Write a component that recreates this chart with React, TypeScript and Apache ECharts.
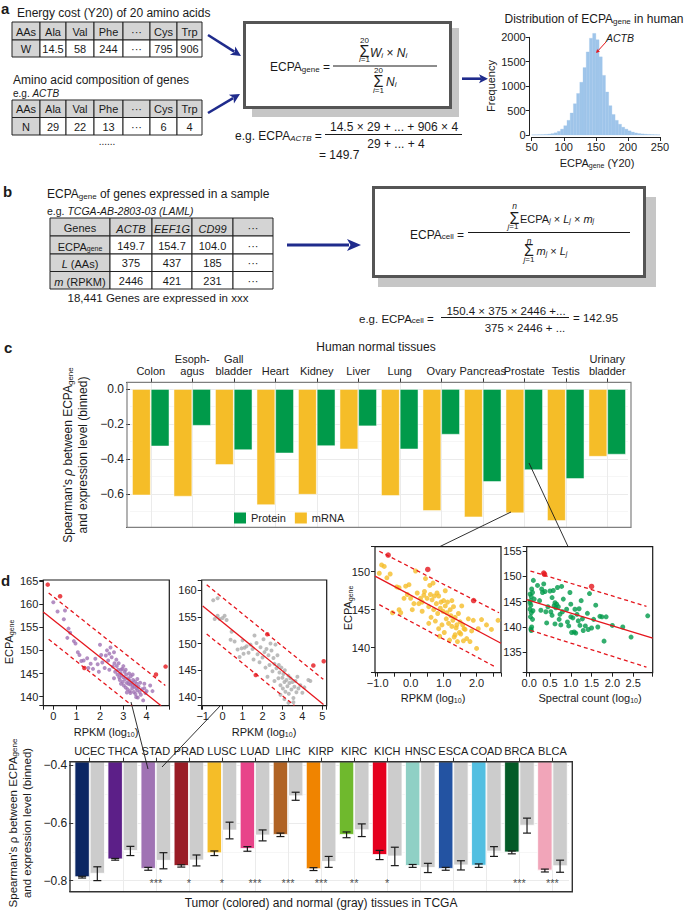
import React, { useEffect, useRef } from 'react';
import * as echarts from 'echarts';

const FONT = '"Liberation Sans", Arial, Helvetica, sans-serif';
const MINUS = '\u2212';

// ---------------- DATA ----------------
// Panel a: energy table and composition table
const energyHeader = ['AAs', 'Ala', 'Val', 'Phe', '···', 'Cys', 'Trp'];
const energyRow = ['W', '14.5', '58', '244', '···', '795', '906'];
const compRow = ['N', '29', '22', '13', '···', '6', '4'];

// Panel a histogram (ECPA_gene distribution)
const histBinStarts = [50, 55, 60, 65, 70, 75, 80, 85, 90, 95, 100, 105, 110, 115, 120, 125, 130, 135, 140, 145, 150, 155, 160, 165, 170, 175, 180, 185, 190, 195, 200, 205, 210, 215, 220, 225, 230, 235, 240, 245];
const histBinWidth = 5;
const histCounts = [3, 4, 6, 8, 12, 18, 28, 45, 75, 120, 190, 300, 450, 640, 850, 1080, 1380, 1700, 1980, 2080, 1950, 1600, 1220, 880, 600, 420, 300, 220, 160, 120, 85, 60, 42, 30, 22, 16, 12, 9, 6, 4];

// Panel b table
const sampleHeader = ['Genes', '{i|ACTB}', '{i|EEF1G}', '{i|CD99}', '···'];
const sampleRows = [
  ['{m|ECPA}{s|gene}', '149.7', '154.7', '104.0', '···'],
  ['{i|L}{m| (AAs)}', '375', '437', '185', '···'],
  ['{i|m}{m| (RPKM)}', '2446', '421', '231', '···'],
];

// Panel c
const tissues = ['Colon', 'Esoph-\nagus', 'Gall\nbladder', 'Heart', 'Kidney', 'Liver', 'Lung', 'Ovary', 'Pancreas', 'Prostate', 'Testis', 'Urinary\nbladder'];
const mrnaRho = [-0.608, -0.615, -0.434, -0.663, -0.604, -0.345, -0.611, -0.697, -0.733, -0.71, -0.754, -0.387];
const proteinRho = [-0.328, -0.21, -0.349, -0.368, -0.326, -0.213, -0.345, -0.261, -0.531, -0.463, -0.514, -0.375];

// Panel d bar chart
const cancers = ['UCEC', 'THCA', 'STAD', 'PRAD', 'LUSC', 'LUAD', 'LIHC', 'KIRP', 'KIRC', 'KICH', 'HNSC', 'ESCA', 'COAD', 'BRCA', 'BLCA'];
const cancerColors = ['#0b2664', '#5c1f88', '#a073b4', '#991c26', '#f5bd28', '#e8448a', '#b06325', '#f08400', '#6fb92d', '#e5001e', '#8fd0c5', '#2353a2', '#52bfe1', '#035b27', '#f1a5b9'];
const tumorRho = [-0.788, -0.726, -0.759, -0.749, -0.705, -0.69, -0.641, -0.76, -0.641, -0.711, -0.749, -0.759, -0.748, -0.702, -0.765];
const tumorErr = [0.003, 0.003, 0.005, 0.004, 0.008, 0.008, 0.006, 0.005, 0.01, 0.016, 0.005, 0.005, 0.006, 0.005, 0.005];
const normalRho = [-0.776, -0.697, -0.731, -0.73, -0.626, -0.643, -0.507, -0.735, -0.625, -0.716, -0.756, -0.747, -0.699, -0.609, -0.75];
const normalErr = [0.024, 0.016, 0.028, 0.019, 0.029, 0.019, 0.014, 0.019, 0.022, 0.032, 0.016, 0.016, 0.017, 0.026, 0.021];
const stars = ['', '', '***', '*', '*', '***', '***', '***', '**', '*', '', '', '', '***', '***'];

// Panel d scatter: STAD tumor (purple)
const stadTumorPts = [[0.0, 160.4], [0.18, 158.4], [0.45, 156.7], [0.5, 158.6], [0.65, 154.7], [0.72, 153.8], [0.6, 152.7], [0.88, 152.0], [0.95, 151.5], [1.05, 149.6], [1.12, 149.0], [1.2, 147.7], [1.3, 147.8], [1.45, 148.3], [1.6, 147.1], [1.7, 146.0], [1.8, 148.2], [1.9, 147.0], [2.0, 151.2], [2.05, 149.0], [2.1, 147.4], [2.2, 146.2], [2.25, 148.9], [2.3, 150.0], [2.35, 147.8], [2.4, 149.3], [2.45, 150.6], [2.5, 148.5], [2.55, 146.5], [2.6, 149.6], [2.62, 147.2], [2.65, 145.4], [2.7, 148.0], [2.72, 146.6], [2.75, 144.8], [2.78, 145.8], [2.8, 147.2], [2.82, 144.2], [2.85, 143.6], [2.88, 145.0], [2.9, 142.8], [2.92, 144.6], [2.95, 146.0], [2.98, 143.2], [3.0, 144.2], [3.02, 142.4], [3.05, 145.4], [3.08, 143.8], [3.1, 142.0], [3.12, 144.8], [3.15, 143.0], [3.18, 141.6], [3.2, 144.0], [3.22, 142.8], [3.25, 143.6], [3.28, 141.2], [3.3, 142.6], [3.32, 144.4], [3.35, 143.0], [3.38, 141.8], [3.4, 142.4], [3.42, 143.6], [3.45, 141.0], [3.48, 142.2], [3.5, 143.2], [3.52, 140.6], [3.55, 141.8], [3.58, 142.8], [3.6, 141.4], [3.62, 139.8], [3.65, 142.2], [3.7, 141.0], [3.72, 143.0], [3.75, 140.4], [3.8, 141.6], [3.85, 139.2], [3.9, 141.8], [3.95, 140.8], [4.0, 141.2], [4.15, 142.4], [4.25, 141.2], [3.0, 146.6], [2.9, 145.8], [3.1, 145.8], [3.25, 145.0], [2.6, 144.0], [3.4, 144.8], [3.6, 143.8], [2.4, 145.8], [1.95, 145.4], [1.5, 146.2], [3.55, 139.9], [3.3, 140.8], [3.15, 140.9], [3.9, 142.8]];
const stadTumorRed = [[-0.24, 164.2], [0.29, 161.7], [1.33, 146.2], [4.4, 144.8], [4.81, 146.5]];
const stadTumorFit = [[-0.43, 158.3], [4.62, 138.05]];
const stadTumorUpper = [[-0.2, 162.4], [4.8, 142.4]];
const stadTumorLower = [[-0.2, 152.4], [3.38, 138.05]];

// Panel d scatter: STAD normal (gray)
const stadNormalPts = [[-0.47, 158.1], [-0.25, 158.5], [-0.4, 154.6], [-0.25, 155.2], [-0.15, 154.6], [0.0, 154.8], [0.1, 155.2], [0.2, 154.4], [0.45, 152.2], [0.4, 150.7], [0.6, 150.4], [0.75, 148.9], [0.85, 147.5], [0.95, 149.1], [1.05, 148.1], [1.1, 149.2], [1.2, 149.5], [1.3, 148.3], [1.4, 149.8], [1.5, 149.0], [1.55, 147.0], [1.7, 150.1], [1.75, 148.0], [1.85, 146.5], [1.9, 149.3], [2.0, 147.4], [2.05, 150.8], [2.1, 148.4], [2.15, 145.5], [2.2, 149.0], [2.3, 147.8], [2.35, 146.0], [2.4, 150.0], [2.45, 148.7], [2.5, 144.8], [2.55, 147.3], [2.6, 146.2], [2.65, 149.8], [2.7, 145.4], [2.75, 147.8], [2.8, 143.5], [2.82, 146.0], [2.85, 144.6], [2.9, 142.2], [2.95, 145.5], [3.0, 143.6], [3.02, 141.6], [3.05, 144.3], [3.1, 142.8], [3.12, 145.0], [3.15, 141.0], [3.2, 143.2], [3.25, 142.0], [3.3, 144.0], [3.32, 140.6], [3.35, 142.6], [3.4, 143.5], [3.45, 141.4], [3.5, 142.8], [3.55, 139.8], [3.6, 141.9], [3.65, 143.0], [3.7, 140.9], [3.8, 141.6], [3.9, 142.2], [4.0, 140.8], [4.1, 141.8], [4.3, 143.2], [4.4, 143.0], [3.55, 139.0], [2.9, 140.4], [3.1, 139.6], [3.3, 138.9], [1.0, 150.6], [2.25, 143.8], [2.6, 143.0], [3.75, 143.8], [1.6, 151.5]];
const stadNormalRed = [[2.24, 151.75], [1.66, 144.1], [4.55, 145.9], [5.07, 146.7]];
const stadNormalFit = [[-1.0, 157.05], [5.06, 138.6]];
const stadNormalUpper = [[-0.8, 161.0], [5.05, 143.3]];
const stadNormalLower = [[-0.8, 151.8], [3.6, 138.4]];

// Panel c scatter: prostate mRNA (yellow)
const prostateMrnaPts = [[-0.95, 149.8], [-0.88, 150.9], [-0.8, 150.7], [-0.62, 149.7], [-0.72, 149.2], [-0.55, 144.6], [-0.35, 145.0], [-0.3, 144.6], [-0.42, 148.0], [-0.35, 147.9], [-0.2, 146.5], [-0.15, 148.1], [-0.1, 147.0], [-0.05, 148.3], [0.0, 146.5], [0.05, 145.0], [0.1, 145.8], [0.15, 150.1], [0.2, 147.2], [0.25, 145.8], [0.3, 146.5], [0.35, 144.8], [0.4, 146.9], [0.42, 147.4], [0.45, 149.1], [0.5, 146.5], [0.55, 145.4], [0.58, 148.2], [0.6, 147.0], [0.62, 144.0], [0.65, 146.3], [0.68, 148.5], [0.7, 145.0], [0.72, 146.8], [0.75, 143.5], [0.78, 145.8], [0.8, 147.2], [0.82, 144.5], [0.85, 142.5], [0.88, 141.5], [0.9, 145.2], [0.92, 146.0], [0.95, 143.0], [0.98, 144.8], [1.0, 146.2], [1.02, 142.0], [1.05, 145.5], [1.08, 143.8], [1.1, 144.6], [1.12, 146.0], [1.15, 143.2], [1.18, 141.0], [1.2, 145.0], [1.22, 144.2], [1.25, 142.8], [1.28, 143.6], [1.3, 145.4], [1.32, 141.4], [1.35, 144.0], [1.38, 142.6], [1.4, 143.0], [1.42, 140.8], [1.45, 144.5], [1.48, 142.0], [1.5, 143.4], [1.52, 141.8], [1.55, 145.5], [1.58, 143.0], [1.6, 140.9], [1.65, 142.4], [1.7, 141.2], [1.75, 143.8], [1.8, 140.8], [1.85, 142.2], [1.9, 143.6], [2.0, 139.9], [2.05, 142.5], [2.15, 143.7], [2.3, 143.0], [2.45, 142.4], [2.65, 143.6], [1.25, 146.2], [0.85, 146.8], [1.05, 147.5], [0.35, 146.0], [1.35, 141.7], [0.55, 143.2], [1.62, 142.5]];
const prostateMrnaRed = [[-0.68, 152.2], [0.52, 150.3], [1.91, 146.2]];
const prostateMrnaFit = [[-1.08, 149.43], [2.74, 140.58]];
const prostateMrnaUpper = [[-0.95, 152.7], [2.68, 144.6]];
const prostateMrnaLower = [[-0.95, 145.66], [2.55, 137.5]];

// Panel c scatter: prostate protein (green)
const prostateProtPts = [[0.02, 146.5], [0.03, 145.2], [0.04, 144.3], [0.02, 143.5], [0.05, 142.8], [0.03, 142.0], [0.06, 147.5], [0.05, 146.0], [0.08, 146.8], [0.1, 149.2], [0.04, 139.6], [0.06, 140.0], [0.05, 139.3], [0.02, 144.8], [0.09, 143.2], [0.12, 145.5], [0.08, 141.5], [0.2, 148.2], [0.25, 145.2], [0.28, 143.3], [0.3, 147.5], [0.32, 146.8], [0.35, 148.5], [0.38, 147.0], [0.4, 143.0], [0.42, 140.8], [0.45, 144.0], [0.5, 147.1], [0.52, 143.0], [0.55, 142.3], [0.58, 147.2], [0.6, 144.2], [0.62, 144.8], [0.64, 143.8], [0.66, 144.5], [0.68, 147.8], [0.7, 144.0], [0.72, 141.5], [0.74, 142.5], [0.76, 140.4], [0.78, 148.0], [0.8, 143.0], [0.82, 145.5], [0.62, 140.6], [0.55, 145.8], [0.9, 143.5], [0.92, 141.0], [0.95, 140.2], [0.98, 146.8], [1.0, 142.0], [1.02, 138.9], [1.05, 141.8], [1.08, 139.0], [1.1, 143.5], [1.12, 138.8], [1.15, 142.5], [1.18, 141.2], [1.2, 143.6], [1.25, 145.2], [1.28, 141.6], [1.3, 139.3], [1.0, 144.5], [1.22, 140.3], [1.35, 140.2], [1.4, 142.7], [1.42, 139.5], [1.45, 146.6], [1.5, 139.8], [1.55, 141.5], [1.6, 144.3], [1.65, 140.0], [1.7, 142.1], [1.75, 142.0], [1.8, 137.2], [1.85, 142.0], [2.0, 140.3], [2.25, 140.0], [2.45, 138.0], [2.85, 142.2]];
const prostateProtRed = [[0.35, 150.65], [0.37, 150.4], [1.5, 148.0]];
const prostateProtFit = [[-0.06, 145.4], [2.97, 137.8]];
const prostateProtUpper = [[0.03, 151.05], [2.82, 144.07]];
const prostateProtLower = [[0.03, 139.33], [2.82, 132.08]];

// ---------------- STYLE ----------------
const INK = '#1a1a1a';
const NAVY = '#1f2b8c';
const RED = '#e5161d';
const YELLOW = '#f5bd28';
const GREEN = '#009a4a';
const PURPLE = '#a073b4';
const GRAYPT = '#ababab';
const HIST = '#9fc5ea';
const CELL_GREY = '#d4d4d4';

const R = (fs: number, color = INK) => {
  const sf = Math.round(fs * 0.68);
  const sl = Math.round(fs * 0.35 + 2);
  const base = { fontFamily: FONT, fill: color, color, verticalAlign: 'bottom' };
  return {
    m: { ...base, fontSize: fs, lineHeight: fs + 2 },
    i: { ...base, fontSize: fs, lineHeight: fs + 2, fontStyle: 'italic' },
    s: { ...base, fontSize: sf, lineHeight: sl },
    si: { ...base, fontSize: sf, lineHeight: sl, fontStyle: 'italic' },
  };
};

const T = (x: number, y: number, text: string, o: any = {}) => ({
  type: 'text',
  x,
  y,
  rotation: o.rot || 0,
  z: o.z ?? 20,
  silent: true,
  style: {
    text,
    fontSize: o.fs ?? 12,
    fontFamily: FONT,
    fontStyle: o.it ? 'italic' : 'normal',
    fontWeight: o.bold ? 'bold' : 'normal',
    fill: o.color ?? INK,
    textAlign: o.align ?? 'left',
    textVerticalAlign: o.va ?? 'middle',
    rich: o.rich ?? R(o.fs ?? 12, o.color ?? INK),
  },
});

const L = (x1: number, y1: number, x2: number, y2: number, color = INK, lw = 1, z = 20) => ({
  type: 'line', z, silent: true, shape: { x1, y1, x2, y2 }, style: { stroke: color, lineWidth: lw },
});

const arrow = (x1: number, y1: number, x2: number, y2: number, color: string, lw: number, hl: number, hw: number) => {
  const dx = x2 - x1, dy = y2 - y1, len = Math.hypot(dx, dy), ux = dx / len, uy = dy / len;
  const bx = x2 - ux * hl, by = y2 - uy * hl;
  return [
    L(x1, y1, bx + ux * 2, by + uy * 2, color, lw, 15),
    {
      type: 'polygon', z: 15, silent: true,
      shape: { points: [[x2, y2], [bx - uy * hw, by + ux * hw], [bx + ux * hl * 0.25, by + uy * hl * 0.25], [bx + uy * hw, by - ux * hw]] },
      style: { fill: color },
    },
  ];
};

function tableEls(cols: number[], rows: number[], cells: string[][], fs: number) {
  const out: any[] = [];
  for (let r = 0; r < cells.length; r++) {
    for (let c = 0; c < cells[r].length; c++) {
      const x = cols[c], y = rows[r], w = cols[c + 1] - x, h = rows[r + 1] - y;
      out.push({ type: 'rect', z: 3, silent: true, shape: { x, y, width: w, height: h }, style: { fill: r === 0 || c === 0 ? CELL_GREY : '#fff', stroke: '#222', lineWidth: 1 } });
      out.push(T(x + w / 2, y + h / 2 + 0.5, cells[r][c], { fs, align: 'center', z: 4 }));
    }
  }
  return out;
}

const fmt = (step: number, digits: number) => (v: number) => {
  const k = Math.round(v / step);
  if (Math.abs(v - k * step) > 1e-6) return '';
  return (k * step).toFixed(digits).replace('-', MINUS);
};

const axisLabelBase = { fontFamily: FONT, fontSize: 11, color: '#222' };
const tickStyle = { color: '#222', width: 1 };

function scatterAxes(gi: number, xr: number[], yr: number[], xStep: number, xDigits: number, xSplit: number, ySplit: number, minorX = false) {
  const x = {
    type: 'value', gridIndex: gi, min: xr[0], max: xr[1], splitNumber: xSplit,
    axisLine: { show: false, onZero: false },
    axisTick: { show: true, length: 4, lineStyle: tickStyle },
    minorTick: { show: minorX, splitNumber: 2, length: 4, lineStyle: tickStyle },
    axisLabel: { ...axisLabelBase, margin: 5, formatter: fmt(xStep, xDigits) },
    splitLine: { show: false },
  };
  const y = {
    type: 'value', gridIndex: gi, min: yr[0], max: yr[1], splitNumber: ySplit,
    axisLine: { show: false, onZero: false },
    axisTick: { show: true, length: 4, lineStyle: tickStyle },
    minorTick: { show: false },
    axisLabel: { ...axisLabelBase, margin: 5, formatter: fmt(5, 0) },
    splitLine: { show: false },
  };
  return { x, y };
}

function scatterSeries(ai: number, pts: number[][], red: number[][], fit: number[][], up: number[][], lo: number[][], color: string, size: number) {
  const lineBase = { type: 'line', xAxisIndex: ai, yAxisIndex: ai, symbol: 'none', silent: true, z: 5 };
  return [
    { type: 'scatter', xAxisIndex: ai, yAxisIndex: ai, data: pts, symbolSize: size, itemStyle: { color }, silent: true, z: 3 },
    { type: 'scatter', xAxisIndex: ai, yAxisIndex: ai, data: red, symbolSize: size + 0.5, itemStyle: { color: RED }, silent: true, z: 4 },
    { ...lineBase, data: fit, lineStyle: { color: RED, width: 1.3 } },
    { ...lineBase, data: up, lineStyle: { color: RED, width: 1.3, type: [4, 3] } },
    { ...lineBase, data: lo, lineStyle: { color: RED, width: 1.3, type: [4, 3] } },
  ];
}

function buildOption() {
  const grids = [
    { left: 531.7, top: 37.3, width: 128.3, height: 97.7 },
    { left: 130, top: 382.35, width: 498, height: 144.9 },
    { left: 73.2, top: 761.7, width: 495.8, height: 130 },
    { left: 43.3, top: 580, width: 126, height: 125.7, show: true, borderColor: INK, borderWidth: 1.2, backgroundColor: 'transparent' },
    { left: 201.7, top: 580, width: 125, height: 125.7, show: true, borderColor: INK, borderWidth: 1.2, backgroundColor: 'transparent' },
    { left: 375, top: 546.7, width: 126, height: 126, show: true, borderColor: INK, borderWidth: 1.2, backgroundColor: 'transparent' },
    { left: 526.7, top: 546.7, width: 126, height: 126, show: true, borderColor: INK, borderWidth: 1.2, backgroundColor: 'transparent' },
  ];

  const sPurple = scatterAxes(3, [-0.43, 4.97], [138.05, 165.2], 1, 0, 5, 5);
  const sGrey = scatterAxes(4, [-1.05, 5.22], [138.37, 161.9], 1, 0, 5, 5);
  const sYellow = scatterAxes(5, [-1.08, 2.74], [136.7, 153.3], 1, 1, 4, 3, true);
  const sGreen = scatterAxes(6, [-0.06, 2.97], [130.97, 155.85], 0.5, 1, 6, 5);

  const catAxisTop = (gi: number, data: string[], fs: number) => ({
    type: 'category', gridIndex: gi, position: 'top', data,
    axisLine: { show: false, onZero: false },
    axisTick: { show: true, alignWithLabel: true, length: 4, lineStyle: { color: '#333' } },
    axisLabel: { ...axisLabelBase, fontSize: fs, interval: 0, margin: 5, lineHeight: 12, hideOverlap: false },
    splitLine: { show: true, alignWithLabel: true, interval: 0, lineStyle: { color: '#ebebeb', width: 1 } },
  });

  const xAxis: any[] = [
    {
      type: 'value', gridIndex: 0, min: 50, max: 250, interval: 50, offset: 2,
      axisLine: { show: true, onZero: false, lineStyle: { color: '#222', width: 1 } },
      axisTick: { show: true, length: 4, lineStyle: tickStyle },
      axisLabel: { ...axisLabelBase, margin: 4, formatter: (v: number) => String(v) },
      splitLine: { show: false },
    },
    catAxisTop(1, tissues, 11),
    catAxisTop(2, cancers, 11),
    sPurple.x, sGrey.x, sYellow.x, sGreen.x,
  ];
  const yAxis: any[] = [
    {
      type: 'value', gridIndex: 0, min: 0, max: 2000, interval: 500, offset: 2,
      axisLine: { show: true, onZero: false, lineStyle: { color: '#222', width: 1 } },
      axisTick: { show: true, length: 4, lineStyle: tickStyle },
      axisLabel: { ...axisLabelBase, margin: 4, formatter: (v: number) => String(v) },
      splitLine: { show: false },
    },
    {
      type: 'value', gridIndex: 1, min: -0.79, max: 0.038, splitNumber: 4,
      axisLine: { show: false, onZero: false },
      axisTick: { show: true, length: 4, lineStyle: { color: '#333' } },
      axisLabel: { ...axisLabelBase, fontSize: 12, margin: 6, formatter: fmt(0.2, 1) },
      splitLine: { show: true, lineStyle: { color: '#ebebeb' } },
      minorTick: { show: false, splitNumber: 2 },
      minorSplitLine: { show: true, lineStyle: { color: '#f6f6f6' } },
    },
    {
      type: 'value', gridIndex: 2, min: -0.8385, max: -0.387, splitNumber: 2,
      axisLine: { show: false, onZero: false },
      axisTick: { show: true, length: 4, lineStyle: { color: '#333' } },
      axisLabel: { ...axisLabelBase, fontSize: 12, margin: 6, formatter: fmt(0.2, 1) },
      splitLine: { show: true, lineStyle: { color: '#ebebeb' } },
      minorTick: { show: false, splitNumber: 2 },
      minorSplitLine: { show: true, lineStyle: { color: '#f6f6f6' } },
    },
    sPurple.y, sGrey.y, sYellow.y, sGreen.y,
  ];

  const series: any[] = [
    {
      type: 'custom', xAxisIndex: 0, yAxisIndex: 0, clip: false, silent: true,
      data: histBinStarts.map((s, i) => [s, s + histBinWidth, histCounts[i]]),
      encode: { x: [0, 1], y: 2 },
      renderItem: (params: any, api: any) => {
        const p0 = api.coord([api.value(0), api.value(2)]);
        const p1 = api.coord([api.value(1), 0]);
        return { type: 'rect', shape: { x: p0[0], y: p0[1], width: p1[0] - p0[0], height: p1[1] - p0[1] }, style: { fill: HIST, stroke: HIST, lineWidth: 0.3 } };
      },
    },
    {
      type: 'bar', name: 'mRNA', xAxisIndex: 1, yAxisIndex: 1, data: mrnaRho, barGap: '0%', barCategoryGap: '10%', silent: true,
      itemStyle: { color: YELLOW, borderColor: 'rgba(255,255,255,0.6)', borderWidth: 0.8 },
    },
    {
      type: 'bar', name: 'Protein', xAxisIndex: 1, yAxisIndex: 1, data: proteinRho, barGap: '0%', barCategoryGap: '10%', silent: true,
      itemStyle: { color: GREEN, borderColor: 'rgba(255,255,255,0.6)', borderWidth: 0.8 },
    },
    {
      type: 'bar', name: 'Tumor', xAxisIndex: 2, yAxisIndex: 2, barGap: '0%', barCategoryGap: '8%', silent: true,
      data: tumorRho.map((v, i) => ({ value: v, itemStyle: { color: cancerColors[i] } })),
      itemStyle: { borderColor: '#ffffff', borderWidth: 0.8 },
    },
    {
      type: 'bar', name: 'Normal', xAxisIndex: 2, yAxisIndex: 2, barGap: '0%', barCategoryGap: '8%', silent: true,
      data: normalRho, itemStyle: { color: '#cccccc', borderColor: '#ffffff', borderWidth: 0.8 },
    },
    {
      type: 'custom', xAxisIndex: 2, yAxisIndex: 2, silent: true, z: 6,
      data: tumorRho.map((v, i) => [i, v, tumorErr[i], -1]).concat(normalRho.map((v, i) => [i, v, normalErr[i], 1])),
      encode: { x: 0, y: 1 },
      renderItem: (params: any, api: any) => {
        const i = api.value(0), v = api.value(1), e = api.value(2), side = api.value(3);
        const band = api.size([1, 0])[0];
        const cx = api.coord([i, v])[0] + side * band * 0.23;
        const yt = api.coord([i, v + e])[1];
        const yb = api.coord([i, v - e])[1];
        const cap = 4;
        const st = { stroke: INK, lineWidth: 1.2 };
        return {
          type: 'group',
          children: [
            { type: 'line', shape: { x1: cx, y1: yt, x2: cx, y2: yb }, style: st },
            { type: 'line', shape: { x1: cx - cap, y1: yt, x2: cx + cap, y2: yt }, style: st },
            { type: 'line', shape: { x1: cx - cap, y1: yb, x2: cx + cap, y2: yb }, style: st },
          ],
        };
      },
    },
    {
      type: 'scatter', xAxisIndex: 2, yAxisIndex: 2, silent: true, z: 6,
      data: stars.map((s, i) => [i, -0.809]),
      symbolSize: 1,
      itemStyle: { color: 'rgba(0,0,0,0)' },
      label: {
        show: true, position: 'inside', color: INK, fontFamily: FONT, fontSize: 11,
        formatter: (p: any) => stars[p.dataIndex],
      },
    },
    ...scatterSeries(3, stadTumorPts, stadTumorRed, stadTumorFit, stadTumorUpper, stadTumorLower, PURPLE, 4),
    ...scatterSeries(4, stadNormalPts, stadNormalRed, stadNormalFit, stadNormalUpper, stadNormalLower, GRAYPT, 4),
    ...scatterSeries(5, prostateMrnaPts, prostateMrnaRed, prostateMrnaFit, prostateMrnaUpper, prostateMrnaLower, YELLOW, 5),
    ...scatterSeries(6, prostateProtPts, prostateProtRed, prostateProtFit, prostateProtUpper, prostateProtLower, GREEN, 5),
  ];

  // ---------------- GRAPHIC ----------------
  const G: any[] = [];
  G.push(T(1, 8, 'a', { fs: 15, bold: true }));
  G.push(T(3, 191, 'b', { fs: 15, bold: true }));
  G.push(T(4, 347, 'c', { fs: 15, bold: true }));
  G.push(T(1, 580, 'd', { fs: 15, bold: true }));

  // panel a, left
  const energyCols = [12, 40, 66, 94, 123, 150, 177, 202];
  G.push(T(17, 13, 'Energy cost (Y20) of 20 amino acids', { fs: 12 }));
  G.push(...tableEls(energyCols, [22, 40, 57], [energyHeader, energyRow], 11));
  G.push(T(13, 80, 'Amino acid composition of genes', { fs: 12 }));
  G.push(T(13, 92.5, '{m|e.g. }{i|ACTB}', { fs: 10 }));
  G.push(...tableEls(energyCols, [100, 117.5, 135], [energyHeader, compRow], 11));
  G.push(T(107, 141, '......', { fs: 10, align: 'center' }));
  G.push(...arrow(208, 35, 241, 56, NAVY, 2.6, 10, 5));
  G.push(...arrow(208, 113, 240, 94, NAVY, 2.6, 10, 5));

  // formula box 1
  G.push({ type: 'rect', z: 1, silent: true, shape: { x: 252, y: 28, width: 207, height: 89 }, style: { fill: '#c6c6c6' } });
  G.push({ type: 'rect', z: 2, silent: true, shape: { x: 244.5, y: 22.5, width: 206, height: 85 }, style: { fill: '#fff', stroke: '#555', lineWidth: 3 } });
  G.push(T(270, 66, '{m|ECPA}{s|gene}{m| =}', { fs: 12 }));
  G.push(L(333, 66, 437, 66, INK, 1));
  G.push(T(364.5, 51, 'Σ', { fs: 16, align: 'center' }));
  G.push(T(364.5, 40, '20', { fs: 8, align: 'center' }));
  G.push(T(364.5, 60, '{si|i}{s|=1}', { fs: 11.5, align: 'center' }));
  G.push(T(370, 52, '{i|W}{si|i}{m| × }{i|N}{si|i}', { fs: 12 }));
  G.push(T(378.5, 81, 'Σ', { fs: 16, align: 'center' }));
  G.push(T(378.5, 70.5, '20', { fs: 8, align: 'center' }));
  G.push(T(378.5, 91, '{si|i}{s|=1}', { fs: 11.5, align: 'center' }));
  G.push(T(386, 81, '{i|N}{si|i}', { fs: 12 }));
  G.push(T(235, 135, '{m|e.g. ECPA}{si|ACTB}{m| =}', { fs: 12 }));
  G.push(T(394, 126.5, '14.5 × 29 + ... + 906 × 4', { fs: 12, align: 'center' }));
  G.push(L(325, 134.5, 462, 134.5, INK, 1));
  G.push(T(396, 144, '29 + ... + 4', { fs: 12, align: 'center' }));
  G.push(T(319, 155, '= 149.7', { fs: 12 }));
  G.push(...arrow(462, 78.7, 488, 78.7, NAVY, 2.6, 9, 4.5));

  // histogram labels
  G.push(T(594, 18, '{m|Distribution of ECPA}{s|gene}{m| in human}', { fs: 12, align: 'center' }));
  G.push(T(491, 86, 'Frequency', { fs: 11, align: 'center', rot: Math.PI / 2 }));
  G.push(T(597, 162, '{m|ECPA}{s|gene}{m| (Y20)}', { fs: 11, align: 'center' }));
  G.push(T(606, 37.5, 'ACTB', { fs: 10.5, it: true }));
  G.push(...arrow(606, 42, 596, 53, RED, 1, 4, 2));

  // panel b
  G.push(T(47, 193, '{m|ECPA}{s|gene}{m| of genes expressed in a sample}', { fs: 12 }));
  G.push(T(47, 210.5, '{m|e.g. }{i|TCGA-AB-2803-03 (LAML)}', { fs: 10.5 }));
  G.push(...tableEls([50, 110, 152, 192, 233, 273], [218, 236, 254, 271.5, 289], [sampleHeader, ...sampleRows], 11));
  G.push(T(158, 297.5, '18,441 Genes are expressed in xxx', { fs: 11.5, align: 'center' }));
  G.push(...arrow(287, 245, 361, 245, NAVY, 3, 14, 6));

  // formula box 2
  G.push({ type: 'rect', z: 1, silent: true, shape: { x: 378, y: 197, width: 278, height: 90 }, style: { fill: '#c6c6c6' } });
  G.push({ type: 'rect', z: 2, silent: true, shape: { x: 373.5, y: 187.5, width: 271, height: 89 }, style: { fill: '#fff', stroke: '#555', lineWidth: 3 } });
  G.push(T(410, 233.5, '{m|ECPA}{s|cell}{m| =}', { fs: 12 }));
  G.push(L(468, 232.5, 630, 232.5, INK, 1));
  G.push(T(514.5, 218.5, 'Σ', { fs: 16, align: 'center' }));
  G.push(T(514.5, 206, 'n', { fs: 8.5, it: true, align: 'center' }));
  G.push(T(513, 227, '{si|j}{s|=1}', { fs: 11.5, align: 'center' }));
  G.push(T(520, 217.5, '{m|ECPA}{si|j}{m| × }{i|L}{si|j}{m| × }{i|m}{si|j}', { fs: 11 }));
  G.push(T(529, 250.5, 'Σ', { fs: 16, align: 'center' }));
  G.push(T(529, 240.5, 'n', { fs: 8.5, it: true, align: 'center' }));
  G.push(T(529, 260.5, '{si|j}{s|=1}', { fs: 11.5, align: 'center' }));
  G.push(T(536.5, 250, '{i|m}{si|j}{m| × }{i|L}{si|j}', { fs: 11 }));
  G.push(T(359, 318, '{m|e.g. ECPA}{s|cell}{m| =}', { fs: 11.5 }));
  G.push(T(506, 310.5, '150.4 × 375 × 2446 +...', { fs: 11.5, align: 'center' }));
  G.push(L(441, 317.5, 569, 317.5, INK, 1));
  G.push(T(525, 327.5, '375 × 2446 + ...', { fs: 11.5, align: 'center' }));
  G.push(T(573, 318, '= 142.95', { fs: 11.5 }));

  // panel c
  G.push(T(376, 347, 'Human normal tissues', { fs: 12, align: 'center' }));
  G.push({ type: 'rect', z: 12, silent: true, shape: { x: 127, y: 382.3, width: 504, height: 145 }, style: { fill: 'none', stroke: '#808080', lineWidth: 1.2 } });
  G.push(T(67, 455, "{m|Spearman's }{i|ρ}{m| between ECPA}{s|gene}", { fs: 12, align: 'center', rot: Math.PI / 2 }));
  G.push(T(83, 455, 'and expression level (binned)', { fs: 12, align: 'center', rot: Math.PI / 2 }));
  G.push(L(511, 512, 440, 546.5, INK, 0.9));
  G.push(L(529, 463, 568, 546.5, INK, 0.9));

  // scatter labels
  G.push(T(8, 642, '{m|ECPA}{s|gene}', { fs: 11, align: 'center', rot: Math.PI / 2 }));
  G.push(T(106, 731, '{m|RPKM (log}{s|10}{m|)}', { fs: 11, align: 'center' }));
  G.push(T(264, 731, '{m|RPKM (log}{s|10}{m|)}', { fs: 11, align: 'center' }));
  G.push(T(347, 608, '{m|ECPA}{s|gene}', { fs: 11, align: 'center', rot: Math.PI / 2 }));
  G.push(T(433, 697, '{m|RPKM (log}{s|10}{m|)}', { fs: 11, align: 'center' }));
  G.push(T(590, 697, '{m|Spectral count (log}{s|10}{m|)}', { fs: 11, align: 'center' }));
  G.push(L(131, 702, 148, 769, INK, 0.9));
  G.push(L(221, 705, 162, 767, INK, 0.9));

  // panel d bars
  G.push({ type: 'rect', z: 12, silent: true, shape: { x: 70, y: 761.7, width: 502.3, height: 130 }, style: { fill: 'none', stroke: '#333', lineWidth: 1.4 } });
  G.push(T(12, 823, "{m|Spearman's ρ between ECPA}{s|gene}", { fs: 11.5, align: 'center', rot: Math.PI / 2 }));
  G.push(T(27, 823, 'and expression level (binned)', { fs: 11.5, align: 'center', rot: Math.PI / 2 }));
  G.push(T(321, 903, 'Tumor (colored) and normal (gray) tissues in TCGA', { fs: 12, align: 'center' }));

  return {
    animation: false,
    backgroundColor: '#ffffff',
    textStyle: { fontFamily: FONT },
    grid: grids,
    xAxis,
    yAxis,
    legend: {
      data: ['Protein', 'mRNA'], left: 234, top: 512.5, padding: 0, itemWidth: 12, itemHeight: 11, itemGap: 9,
      icon: 'rect', selectedMode: false, itemStyle: { borderWidth: 0 },
      textStyle: { fontFamily: FONT, fontSize: 11, color: '#222', padding: [0, 0, 0, 0] },
    },
    series,
    graphic: { elements: G },
  };
}

export default function App() {
  const ref = useRef<HTMLDivElement>(null);
  useEffect(() => {
    if (!ref.current) return;
    const chart = echarts.init(ref.current, undefined, { renderer: 'svg', width: 685, height: 912 });
    chart.setOption(buildOption() as any);
    return () => chart.dispose();
  }, []);
  return <div ref={ref} style={{ position: 'absolute', left: 0, top: 0, width: 685, height: 912, background: '#fff' }} />;
}
